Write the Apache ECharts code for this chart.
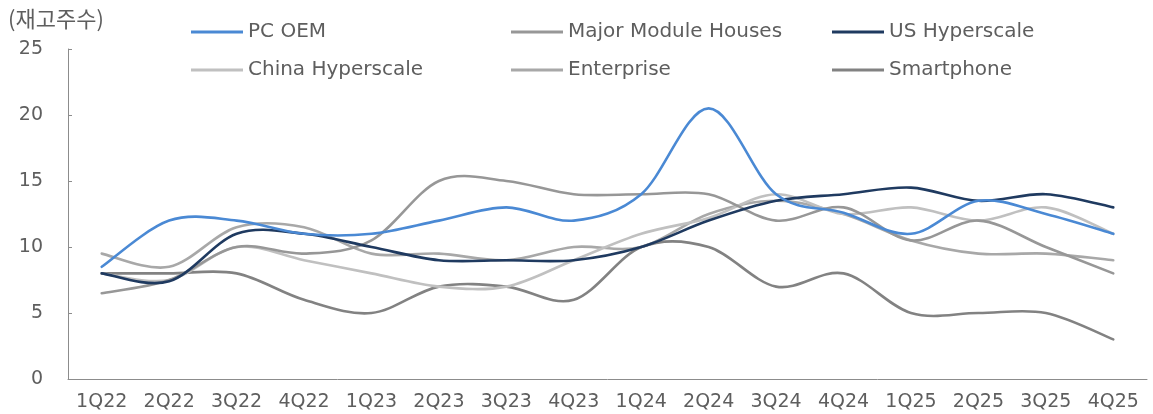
<!DOCTYPE html>
<html>
<head>
<meta charset="utf-8">
<script src="https://cdn.jsdelivr.net/npm/echarts@6/dist/echarts.min.js"></script>
<style>
html,body{margin:0;padding:0;background:#fff;}
#chart{width:1153px;height:414px;}
</style>
</head>
<body>
<div id="chart"></div>
<script>
const categories = ['1Q22','2Q22','3Q22','4Q22','1Q23','2Q23','3Q23','4Q23','1Q24','2Q24','3Q24','4Q24','1Q25','2Q25','3Q25','4Q25'];
const pcOem       = [8.5, 12, 12, 11, 11, 12, 13, 12, 14, 20.5, 14, 12.6, 11, 13.5, 12.5, 11];
const mmh         = [6.5, 7.5, 10, 9.5, 10.5, 15, 15, 14, 14, 14, 12, 13, 10.5, 12, 10, 8];
const usHyper     = [8, 7.4, 11, 11, 10, 9, 9, 9, 10, 12, 13.5, 14, 14.5, 13.5, 14, 13];
const chinaHyper  = [8, 7.5, 10, 9, 8, 7, 7, 9, 11, 12.2, 14, 12.5, 13, 12, 13, 11];
const enterprise  = [9.5, 8.5, 11.5, 11.5, 9.5, 9.5, 9, 10, 10, 12.5, 13.5, 12.5, 10.5, 9.5, 9.5, 9];
const smartphone  = [8, 8, 8, 6, 5, 7, 7, 6, 10, 10, 7, 8, 5, 5, 5, 3];
const yTicks = [0, 5, 10, 15, 20, 25];
const yName = '(재고주수)';

const seriesDefs = [
  {name:'Smartphone', data: smartphone, color:'#828282'},
  {name:'Enterprise', data: enterprise, color:'#a8a8a8'},
  {name:'China Hyperscale', data: chinaHyper, color:'#c0c0c0'},
  {name:'Major Module Houses', data: mmh, color:'#979797'},
  {name:'US Hyperscale', data: usHyper, color:'#1f3a60'},
  {name:'PC OEM', data: pcOem, color:'#4a89d4'}
];
const legendPos = {
  'PC OEM':[191,21], 'Major Module Houses':[511,21], 'US Hyperscale':[832,21],
  'China Hyperscale':[191,59], 'Enterprise':[511,59], 'Smartphone':[832,59]
};
const font = 'DejaVu Sans';
const txt = '#5e5e5e';
const axisColor = '#8c8c8c';

function smoothRender(values, color) {
  return function (params, api) {
    if (params.dataIndex !== 0) return null;
    const pts = values.map((v, i) => api.coord([i, v]));
    const n = pts.length;
    let d = 'M' + pts[0][0] + ' ' + pts[0][1];
    for (let i = 0; i < n - 1; i++) {
      const p0 = pts[Math.max(i - 1, 0)], p1 = pts[i], p2 = pts[i + 1], p3 = pts[Math.min(i + 2, n - 1)];
      const c1x = p1[0] + (p2[0] - p0[0]) / 6, c1y = p1[1] + (p2[1] - p0[1]) / 6;
      const c2x = p2[0] - (p3[0] - p1[0]) / 6, c2y = p2[1] - (p3[1] - p1[1]) / 6;
      d += ' C' + c1x + ' ' + c1y + ' ' + c2x + ' ' + c2y + ' ' + p2[0] + ' ' + p2[1];
    }
    return {
      type: 'path',
      shape: {pathData: d},
      style: {stroke: color, lineWidth: 2.6, fill: null, lineJoin: 'round', lineCap: 'round'}
    };
  };
}

const chart = echarts.init(document.getElementById('chart'), null, {renderer:'canvas'});
chart.setOption({
  animation:false,
  backgroundColor:'#ffffff',
  title:{
    text: yName, left: 8, top: 8, padding: [0,0,0,0],
    textStyle:{fontFamily:'Noto Sans CJK KR', fontSize:22, fontWeight:'normal', color:txt}
  },
  legend: seriesDefs.map(s => ({
    data:[s.name], left: legendPos[s.name][0], top: legendPos[s.name][1],
    icon:'rect', itemWidth:52, itemHeight:3, itemGap:6, padding:0,
    textStyle:{fontFamily:font, fontSize:20, color:txt, lineHeight:22}
  })),
  grid:{left:68, right:6, top:49, bottom:35},
  xAxis:{
    type:'category', data: categories, boundaryGap:true,
    axisLine:{lineStyle:{color:axisColor, width:1}},
    axisTick:{inside:true, length:5, lineStyle:{color:axisColor}},
    axisLabel:{fontFamily:font, fontSize:19, color:txt, margin:14, interval:0}
  },
  yAxis:{
    type:'value', min:yTicks[0], max:yTicks[yTicks.length-1], interval:5,
    axisLine:{show:true, lineStyle:{color:axisColor, width:1}},
    axisTick:{show:true, inside:true, length:4, lineStyle:{color:axisColor}},
    splitLine:{show:false},
    axisLabel:{fontFamily:font, fontSize:19, color:txt, margin:25}
  },
  series: seriesDefs.map(s => ({
    name:s.name, type:'custom',
    data: s.data.map((v, i) => [i, v]),
    encode:{x:0, y:1},
    renderItem: smoothRender(s.data, s.color),
    itemStyle:{color:s.color}, clip:false
  }))
});
</script>
</body>
</html>
